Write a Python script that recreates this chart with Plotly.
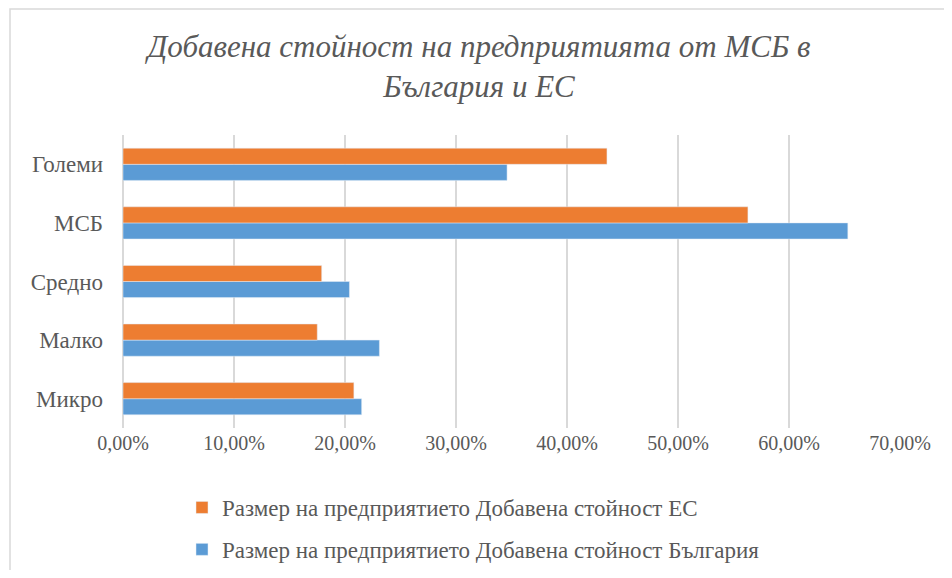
import plotly.graph_objects as go

categories = ["Микро", "Малко", "Средно", "МСБ", "Големи"]
bg_values = [0.215, 0.231, 0.204, 0.653, 0.346]
eu_values = [0.208, 0.175, 0.179, 0.563, 0.436]
name_bg = "Размер на предприятието Добавена стойност България"
name_eu = "Размер на предприятието Добавена стойност ЕС"
title_text = "Добавена стойност на предприятията от МСБ в<br>България и ЕС"
x_ticks = [0, 0.1, 0.2, 0.3, 0.4, 0.5, 0.6, 0.7]

FONT = "Liberation Serif"
GREY = "#595959"

W, H = 936, 562
L, T, PW, PH = 115, 127, 777, 293
R = W - L - PW
B = H - T - PH

fig = go.Figure()
fig.add_trace(go.Bar(y=categories, x=bg_values, orientation="h", name=name_bg,
                     marker=dict(color="#5B9BD5"), legendgroup="bg", legendrank=2))
fig.add_trace(go.Bar(y=categories, x=eu_values, orientation="h", name=name_eu,
                     marker=dict(color="#ED7D31"), legendgroup="eu", legendrank=1))

fig.update_layout(
    width=W, height=H,
    margin=dict(l=L, r=R, t=T, b=B, pad=0, autoexpand=False),
    paper_bgcolor="white", plot_bgcolor="white",
    separators=",.",
    barmode="group", bargap=0.45, bargroupgap=0,
    font=dict(family=FONT, color=GREY, size=18),
    title=dict(text=title_text, xref="container", x=(479 - 8) / W, xanchor="center",
               yref="container", y=1 - 49 / H, yanchor="top",
               font=dict(family=FONT, size=31, style="italic", color=GREY)),
    xaxis=dict(range=[0, 0.7], tickvals=x_ticks, tickformat=".2%",
               showgrid=True, gridcolor="#d9d9d9", gridwidth=1.5,
               zeroline=True, zerolinecolor="#d9d9d9", zerolinewidth=1.5,
               showline=False, tickfont=dict(family=FONT, size=20, color=GREY),
               ticklabelstandoff=1, automargin=False, fixedrange=True),
    yaxis=dict(categoryorder="array", categoryarray=categories,
               showgrid=False, showline=False, ticklabelstandoff=19,
               automargin=False, tickfont=dict(family=FONT, size=23, color=GREY)),
    legend=dict(orientation="v", traceorder="grouped", x=(182 - 8 - L) / PW,
                xanchor="left", y=(T + PH - (486 - 8)) / PH, yanchor="top",
                tracegroupgap=9, font=dict(family=FONT, size=23, color=GREY),
                bgcolor="rgba(0,0,0,0)"),
    showlegend=True,
    shapes=[dict(type="rect", xref="paper", yref="paper",
                 x0=(2 - L) / PW, x1=(W + 40 - L) / PW,
                 y0=(T + PH - (H + 40)) / PH, y1=(T + PH - 1) / PH,
                 line=dict(color="#d9d9d9", width=1.5), fillcolor="rgba(0,0,0,0)",
                 layer="below")],
)

fig.write_html("out.html")
